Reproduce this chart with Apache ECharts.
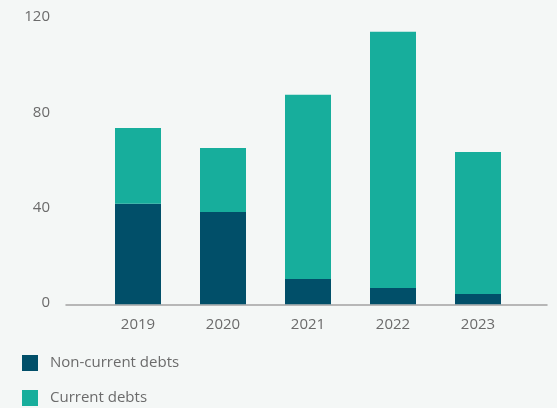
<!DOCTYPE html>
<html>
<head>
<meta charset="utf-8">
<script src="https://cdn.jsdelivr.net/npm/echarts@6/dist/echarts.min.js"></script>
<style>
  html, body { margin: 0; padding: 0; background: #f4f7f6; }
  #chart { width: 557px; height: 408px; }
</style>
</head>
<body>
<div id="chart"></div>
<script>
// Debt breakdown by year
const years = ['2019', '2020', '2021', '2022', '2023'];
const nonCurrentDebts = [42.2, 38.8, 10.6, 6.9, 4.3];
const currentDebts = [31.9, 26.9, 77.4, 107.6, 59.7];
const yTicks = { min: 0, max: 120, interval: 40 };

const labelColor = '#6b6b6b';
const fontFamily = '"Open Sans", Lato, sans-serif';

const chart = echarts.init(document.getElementById('chart'));
chart.setOption({
  backgroundColor: '#f4f7f6',
  animation: false,
  textStyle: { fontFamily: fontFamily },
  legend: {
    orient: 'vertical',
    left: 22,
    top: 355,
    padding: 0,
    itemWidth: 16,
    itemHeight: 16,
    itemGap: 19,
    icon: 'rect',
    selectedMode: false,
    textStyle: { fontSize: 15, color: labelColor, fontFamily: fontFamily, padding: [0, 0, 0, 7] },
    data: ['Non-current debts', 'Current debts']
  },
  grid: [
    // full-width grid: baseline and value labels
    { left: 66, right: 10, top: 18.7, bottom: 103.7 },
    // inner grid holding the bars
    { left: 95.5, right: 36.5, top: 18.7, bottom: 103.7 }
  ],
  xAxis: [
    {
      gridIndex: 0,
      type: 'category',
      data: years,
      axisLine: { show: true, lineStyle: { color: '#a3a3a3', width: 1.5 } },
      axisTick: { show: false },
      axisLabel: { show: false },
      splitLine: { show: false }
    },
    {
      gridIndex: 1,
      type: 'category',
      data: years,
      axisLine: { show: false },
      axisTick: { show: false },
      axisLabel: { color: labelColor, fontSize: 15, margin: 13, fontFamily: fontFamily },
      splitLine: { show: false }
    }
  ],
  yAxis: [
    {
      gridIndex: 0,
      type: 'value',
      min: yTicks.min,
      max: yTicks.max,
      interval: yTicks.interval,
      axisLine: { show: false },
      axisTick: { show: false },
      splitLine: { show: false },
      axisLabel: {
        color: labelColor, fontSize: 15, margin: 16, fontFamily: fontFamily,
        verticalAlign: 'bottom', lineHeight: 15, padding: [0, 0, -6, 0]
      }
    },
    {
      gridIndex: 1,
      type: 'value',
      min: yTicks.min,
      max: yTicks.max,
      interval: yTicks.interval,
      show: false
    }
  ],
  series: [
    {
      name: 'Non-current debts',
      type: 'bar',
      stack: 'debt',
      xAxisIndex: 1,
      yAxisIndex: 1,
      barWidth: 46,
      itemStyle: { color: '#014f69' },
      data: nonCurrentDebts
    },
    {
      name: 'Current debts',
      type: 'bar',
      stack: 'debt',
      xAxisIndex: 1,
      yAxisIndex: 1,
      barWidth: 46,
      itemStyle: { color: '#17ae9c' },
      data: currentDebts
    }
  ]
});
</script>
</body>
</html>
